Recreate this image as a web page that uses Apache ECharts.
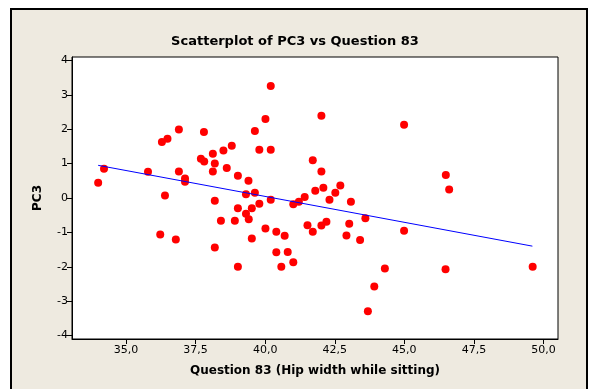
<!DOCTYPE html>
<html>
<head>
<meta charset="utf-8">
<script src="https://cdn.jsdelivr.net/npm/echarts@6/dist/echarts.min.js"></script>
<style>html,body{margin:0;padding:0;background:#fff}#c{width:590px;height:389px}</style>
</head>
<body>
<div id="c"></div>
<script>
const question83 = [34.0,34.21,35.79,36.29,36.49,36.40,36.90,36.90,37.12,37.12,37.80,37.69,37.81,38.12,38.19,38.12,38.50,38.80,38.62,39.02,39.40,38.19,39.31,39.63,39.63,39.79,40.01,40.20,40.20,40.20,39.79,39.02,39.52,41.01,41.21,41.42,41.71,41.80,42.02,42.02,39.31,39.41,38.41,38.91,40.01,40.40,40.70,39.52,36.23,36.79,38.19,40.40,40.81,41.01,39.02,40.58,41.52,41.71,42.02,42.20,44.99,46.49,46.61,42.09,42.70,42.52,42.31,43.08,43.60,43.02,42.92,43.41,44.99,44.30,46.48,49.61,43.92,43.69];
const pc3 = [0.44,0.85,0.76,1.63,1.72,0.07,1.99,0.77,0.57,0.47,1.92,1.14,1.06,1.29,1.00,0.77,1.38,1.52,0.87,0.65,0.50,-0.08,0.11,0.15,1.95,1.40,2.30,3.26,1.40,-0.05,-0.17,-0.30,-0.30,-0.18,-0.11,0.03,1.10,0.21,2.39,0.77,-0.46,-0.62,-0.66,-0.66,-0.89,-0.98,-1.10,-1.18,-1.06,-1.21,-1.44,-1.58,-1.57,-1.87,-2.00,-2.00,-0.79,-0.98,-0.80,-0.69,2.13,0.67,0.25,0.30,0.36,0.15,-0.05,-0.11,-0.59,-0.75,-1.09,-1.22,-0.95,-2.05,-2.07,-2.00,-2.57,-3.29];
const fitX = [34.0, 49.6];
const fitY = [0.95, -1.40];
const xTicks = [35, 37.5, 40, 42.5, 45, 47.5, 50];
const yTicks = [-4, -3, -2, -1, 0, 1, 2, 3, 4];

const chart = echarts.init(document.getElementById('c'), null, {renderer: 'canvas'});
const FONT = 'DejaVu Sans';
chart.setOption({
  backgroundColor: '#ffffff',
  animation: false,
  graphic: [{
    type: 'rect', z: -100, left: 10, top: 8,
    shape: {x: 0, y: 0, width: 576, height: 400},
    style: {fill: '#EEEAE0', stroke: '#000', lineWidth: 2}
  }],
  title: {
    text: 'Scatterplot of PC3 vs Question 83', left: 'center', top: 30,
    textStyle: {fontFamily: FONT, fontWeight: 'bold', fontSize: 13, color: '#000'}
  },
  grid: {left: 72, top: 57, width: 486, height: 282, show: true, backgroundColor: '#fff', borderColor: '#000', borderWidth: 1},
  xAxis: {
    type: 'value', min: 33.06, max: 50.52,
    name: 'Question 83 (Hip width while sitting)', nameLocation: 'middle', nameGap: 26,
    nameTextStyle: {fontFamily: FONT, fontWeight: 'bold', fontSize: 12, color: '#000'},
    axisLine: {show: true, onZero: false, lineStyle: {color: '#000', width: 1}},
    axisTick: {show: true, length: 5, customValues: xTicks, lineStyle: {color: '#000'}},
    axisLabel: {customValues: xTicks, margin: 6, color: '#000', fontFamily: FONT, fontSize: 11,
      formatter: v => v.toFixed(1).replace('.', ',')},
    splitLine: {show: false}
  },
  yAxis: {
    type: 'value', min: -4.1, max: 4.1,
    name: 'PC3', nameLocation: 'middle', nameGap: 28,
    nameTextStyle: {fontFamily: FONT, fontWeight: 'bold', fontSize: 12, color: '#000'},
    axisLine: {show: true, onZero: false, lineStyle: {color: '#000', width: 1}},
    axisTick: {show: true, length: 5, customValues: yTicks, lineStyle: {color: '#000'}},
    axisLabel: {customValues: yTicks, margin: 4, color: '#000', fontFamily: FONT, fontSize: 11},
    splitLine: {show: false}
  },
  series: [{
    type: 'scatter', symbol: 'circle', symbolSize: 8,
    itemStyle: {color: '#ff0000', opacity: 1},
    data: question83.map((x, i) => [x, pc3[i]])
  }, {
    type: 'line', symbol: 'none', silent: true,
    lineStyle: {color: '#0000ff', width: 1},
    data: fitX.map((x, i) => [x, fitY[i]])
  }]
});
</script>
</body>
</html>
